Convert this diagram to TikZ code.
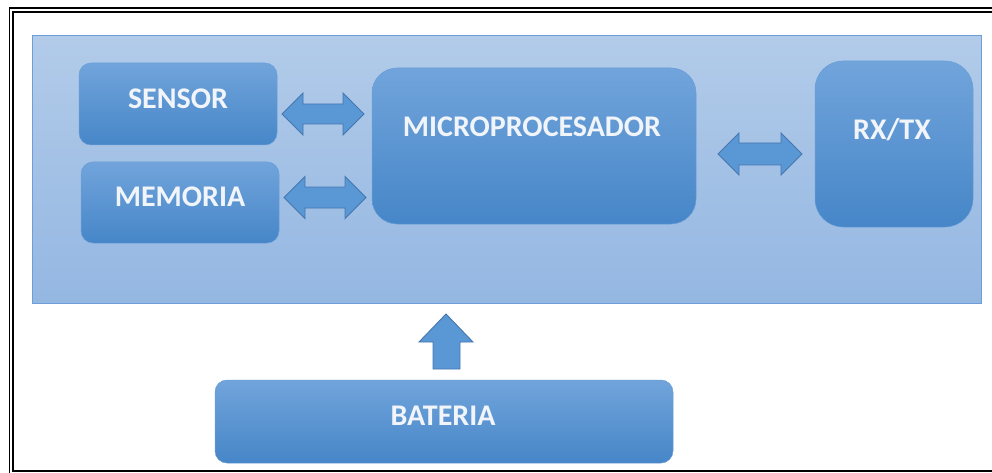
\documentclass[tikz,border=0pt]{standalone}
\usepackage{fontspec}
\setmainfont{Carlito}
\definecolor{paneltop}{HTML}{B2CBE9}
\definecolor{panelbot}{HTML}{94B7E2}
\definecolor{paneledge}{HTML}{6E9EDA}
\definecolor{boxtop}{HTML}{71A4DB}
\definecolor{boxmid}{HTML}{5699DA}
\definecolor{boxbot}{HTML}{4686C8}
\definecolor{boxedge}{HTML}{6A9ED8}
\definecolor{arrowfill}{HTML}{5A97D5}
\definecolor{arrowedge}{HTML}{4677AE}
\definecolor{labeltext}{HTML}{F1F5FA}
\tikzset{
  panel/.style={draw=paneledge, line width=1pt, top color=paneltop, bottom color=panelbot, inner sep=0pt},
  block/.style={draw=boxedge, line width=0.5pt, top color=boxtop, middle color=boxmid, bottom color=boxbot, inner sep=0pt},
  lbl/.style={font=\fontsize{30}{30}\selectfont\bfseries, text=labeltext, inner sep=0pt},
  barrow/.style={fill=arrowfill, draw=arrowedge, line width=0.9pt, line join=miter},
  frameline/.style={draw=black, line width=1.4pt},
}
% horizontal double-headed block arrow: left tip x, right tip x, centre y, head half-height, shaft half-height, head length
\newcommand\hdblarrow[6]{%
  \draw[barrow] (#1,#3) -- ({#1+#6},{#3-#4}) -- ({#1+#6},{#3-#5}) -- ({#2-#6},{#3-#5})
    -- ({#2-#6},{#3-#4}) -- (#2,#3) -- ({#2-#6},{#3+#4}) -- ({#2-#6},{#3+#5})
    -- ({#1+#6},{#3+#5}) -- ({#1+#6},{#3+#4}) -- cycle;}
\begin{document}
\begin{tikzpicture}[x=1pt,y=-1pt]
  \useasboundingbox[fill=white] (0,0) rectangle (992,473);
  % page frame, running off the right and bottom edges
  \draw[frameline] (9.5,480) -- (9.5,8) -- (1000,8);
  \draw[frameline] (1000,471) -- (13,471) -- (13,12) -- (1000,12);
  % board
  \node[panel, minimum width=949pt, minimum height=267pt] (board) at (506.5,169.5) {};
  % blocks
  \node[block, rounded corners=12pt, minimum width=198pt, minimum height=82pt] (sensor) at (178,104) {};
  \node[block, rounded corners=12pt, minimum width=198pt, minimum height=81pt] (memoria) at (180,202.5) {};
  \node[block, rounded corners=25pt, minimum width=324pt, minimum height=156pt] (micro) at (534,146) {};
  \node[block, rounded corners=28pt, minimum width=158pt, minimum height=166pt] (rxtx) at (894,144) {};
  \node[block, rounded corners=12pt, minimum width=458pt, minimum height=83pt] (bateria) at (444,421.5) {};
  % labels
  \node[lbl] (sensor-t) at (178,99) {SENSOR};
  \node[lbl] (memoria-t) at (180,197) {MEMORIA};
  \node[lbl] (micro-t) at (532,127) {MICROPROCESADOR};
  \node[lbl] (rxtx-t) at (892,130) {RX/TX};
  \node[lbl] (bateria-t) at (443,416) {BATERIA};
  % links
  \hdblarrow{282}{364}{114}{21}{10}{21}
  \hdblarrow{284}{366}{197.5}{21}{10.5}{21}
  \hdblarrow{718}{802}{154}{21}{11}{21}
  \draw[barrow] (446,314) -- (473,342) -- (460,342) -- (460,369) -- (433,369) -- (433,342) -- (419,342) -- cycle;
\end{tikzpicture}
\end{document}
